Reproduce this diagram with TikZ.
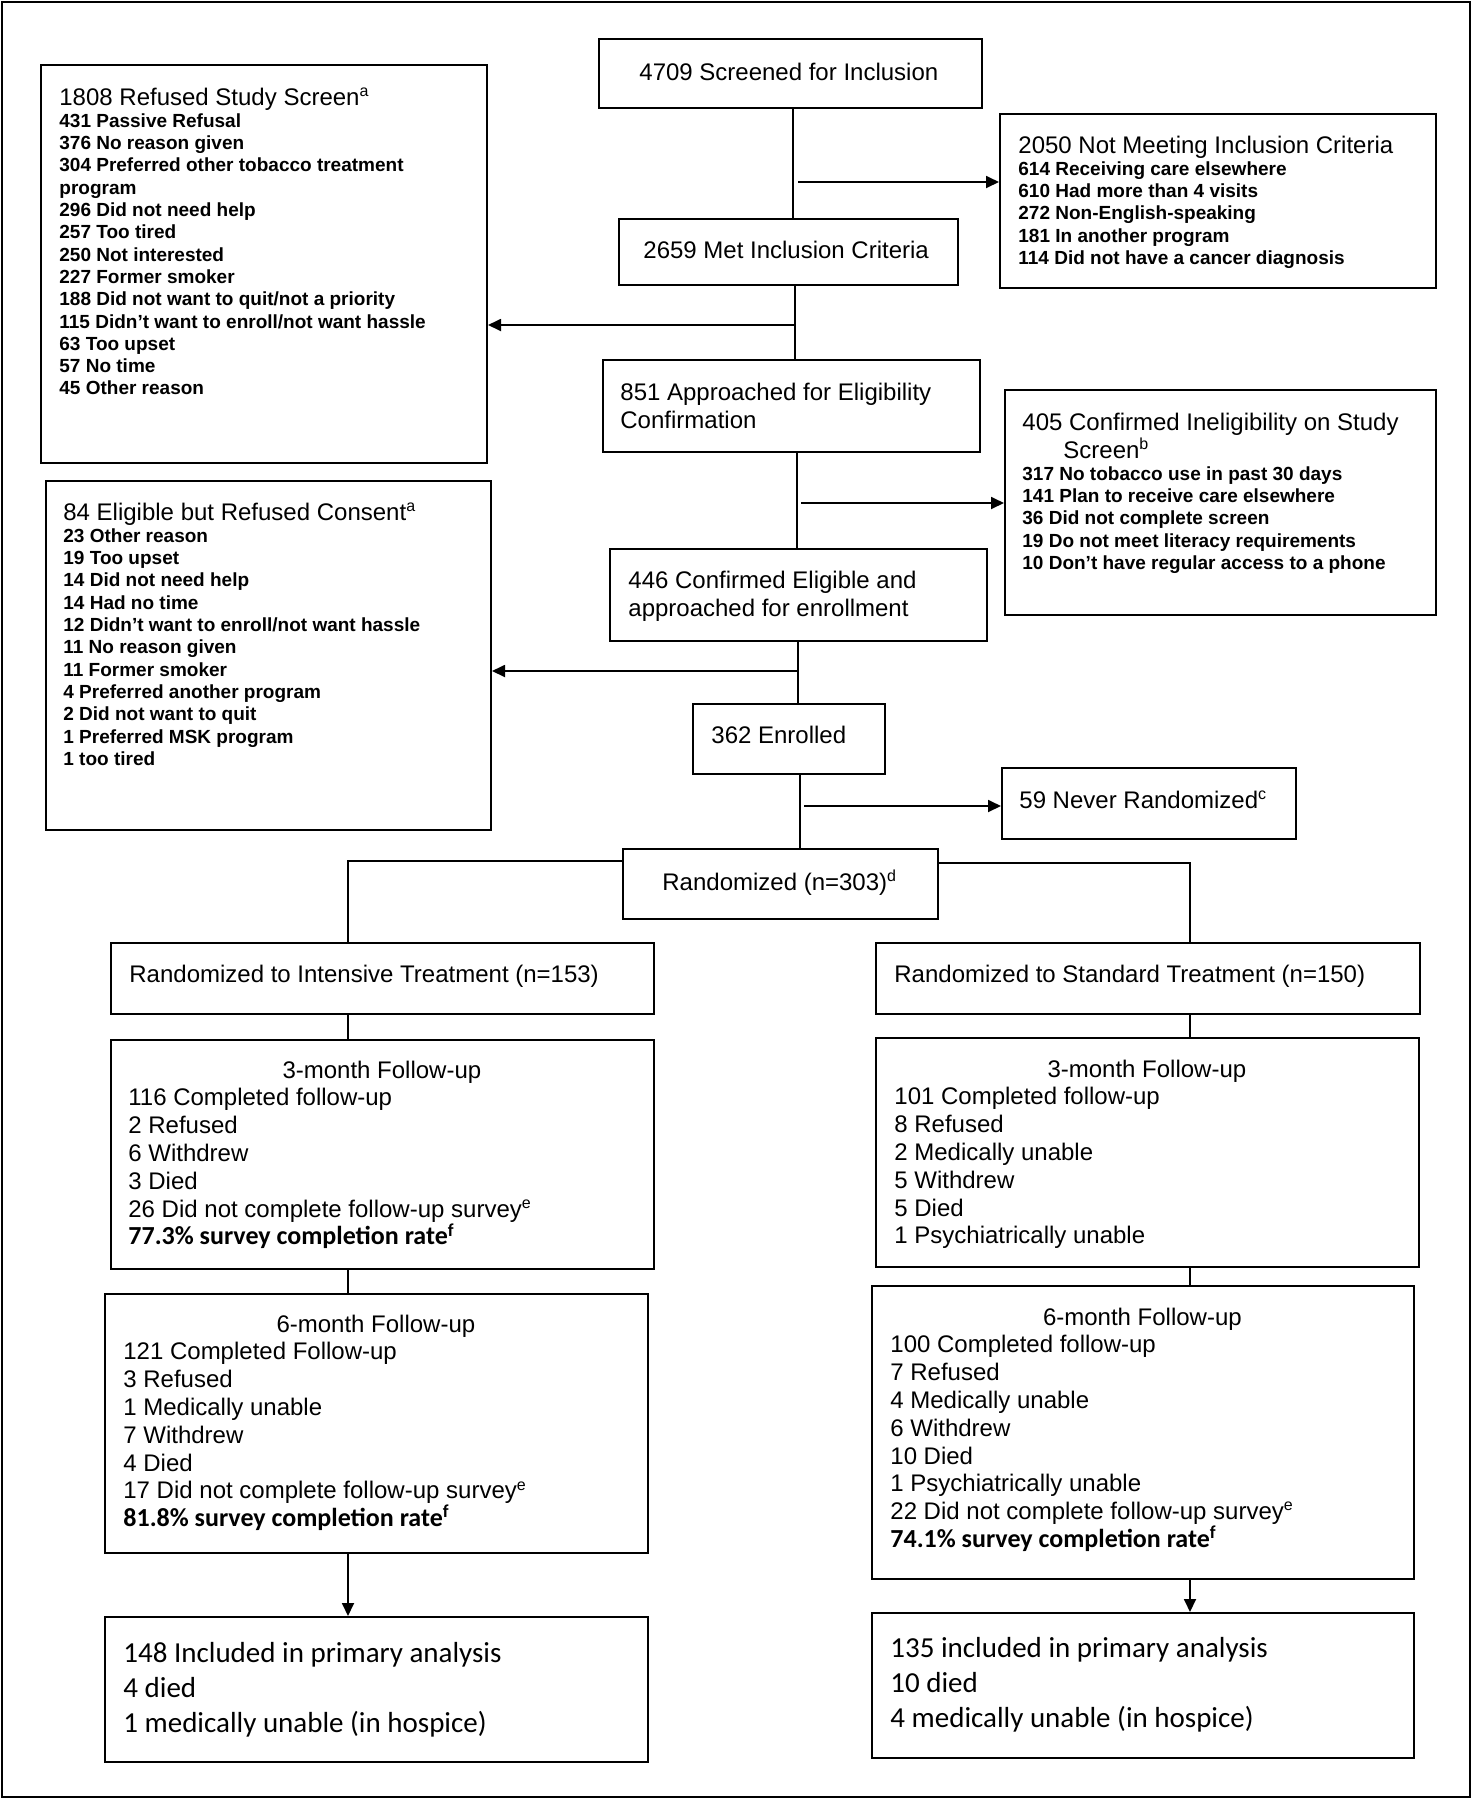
\documentclass[tikz,border=0pt]{standalone}
\usepackage{fontspec}
\setmainfont{Liberation Sans}
\newfontfamily\calfont{Carlito}
\usetikzlibrary{arrows.meta}
\newcommand{\hd}{\mdseries\fontsize{12}{14}\selectfont}
\newcommand{\lst}{\bfseries\fontsize{9.5}{11.15}\selectfont}
\newcommand{\fu}{\fontsize{12}{13.9}\selectfont}
\newcommand{\rate}{\calfont\bfseries\fontsize{13}{13.9}\selectfont}
\newcommand{\ana}{\calfont\fontsize{14.5}{17.5}\selectfont}
\newcommand{\mkbox}[5]{% #1: name, #2: x1, #3: y1, #4: x2, #5: y2
	\node[box,minimum width={(#4-#2)*0.5pt},minimum height={(#5-#3)*0.5pt}] (#1) at (#2,#3) {};
}

\begin{document}
\begin{tikzpicture}[x=0.5pt,y=-0.5pt,
	box/.style={draw,line width=1pt,inner sep=0,anchor=north west},
	txt/.style={inner sep=0,anchor=base west},
	link/.style={line width=0.9pt},
	arr/.style={link,-{Triangle[length=6.5pt,width=6pt]}}]
					\useasboundingbox (0,0) rectangle (1474,1800);
					% Draw the frame
					\draw[line width=1pt] (2,2) rectangle (1470,1797);
					
					% Making boxes
					\mkbox{scr}{598}{38}{981}{107}
					\mkbox{excl}{999}{113}{1435}{287}
					\mkbox{met}{618}{218}{957}{284}
					\mkbox{refscr}{40}{64}{486}{462}
					\mkbox{appr}{602}{359}{979}{451}
					\mkbox{inelig}{1004}{389}{1435}{614}
					\mkbox{refcons}{45}{480}{490}{829}
					\mkbox{elig}{609}{548}{986}{640}
					\mkbox{enrol}{692}{703}{884}{773}
					\mkbox{never}{1001}{767}{1295}{838}
					\mkbox{rand}{622}{848}{937}{918}
					\mkbox{inten}{110}{942}{653}{1013}
					\mkbox{stand}{875}{942}{1419}{1013}
					\mkbox{intthree}{110}{1039}{653}{1268}
					\mkbox{stdthree}{875}{1037}{1418}{1266}
					\mkbox{intsix}{104}{1293}{647}{1552}
					\mkbox{stdsix}{871}{1285}{1413}{1578}
					\mkbox{intana}{104}{1616}{647}{1761}
					\mkbox{stdana}{871}{1612}{1413}{1757}
					
					% Texts of the boxes
					\node[txt] (scrtxt) at (639,80) {\hd 4709 Screened for Inclusion};
					\node[txt] (excltxt) at (1018,153) {\parbox[t]{205pt}{\lst{\hd 2050 Not Meeting Inclusion Criteria}\\
						614 Receiving care elsewhere\\ 610 Had more than 4 visits\\ 272 Non-English-speaking\\
						181 In another program\\ 114 Did not have a cancer diagnosis}};
					\node[txt] (mettxt) at (643,258) {\hd 2659 Met Inclusion Criteria};
					\node[txt] (refscrtxt) at (59,105) {\parbox[t]{210pt}{\lst{\hd 1808 Refused Study Screen\textsuperscript{a}}\\
						431 Passive Refusal\\ 376 No reason given\\ 304 Preferred other tobacco treatment\\ program\\
						296 Did not need help\\ 257 Too tired\\ 250 Not interested\\ 227 Former smoker\\
						188 Did not want to quit/not a priority\\ 115 Didn’t want to enroll/not want hassle\\
						63 Too upset\\ 57 No time\\ 45 Other reason}};
					\node[txt] (apprtxt) at (620,400) {\parbox[t]{180pt}{\hd 851 Approached for Eligibility\\ Confirmation}};
					\node[txt] (ineligtxt) at (1022,430) {\parbox[t]{205pt}{\lst{\hd 405 Confirmed Ineligibility on Study\\
						\hspace*{20.5pt}Screen\textsuperscript{b}\par}
						317 No tobacco use in past 30 days\\ 141 Plan to receive care elsewhere\\ 36 Did not complete screen\\
						19 Do not meet literacy requirements\\ 10 Don’t have regular access to a phone}};
					\node[txt] (refconstxt) at (63,520) {\parbox[t]{210pt}{\lst{\hd 84 Eligible but Refused Consent\textsuperscript{a}}\\
						23 Other reason\\ 19 Too upset\\ 14 Did not need help\\ 14 Had no time\\
						12 Didn’t want to enroll/not want hassle\\ 11 No reason given\\ 11 Former smoker\\
						4 Preferred another program\\ 2 Did not want to quit\\ 1 Preferred MSK program\\ 1 too tired}};
					\node[txt] (eligtxt) at (628,588) {\parbox[t]{180pt}{\hd 446 Confirmed Eligible and\\ approached for enrollment}};
					\node[txt] (enroltxt) at (711,743) {\hd 362 Enrolled};
					\node[txt] (nevertxt) at (1019,808) {\hd 59 Never Randomized\textsuperscript{c}};
					\node[txt] (randtxt) at (662,890) {\hd Randomized (n=303)\textsuperscript{d}};
					\node[txt] (intentxt) at (129,982) {\hd Randomized to Intensive Treatment (n=153)};
					\node[txt] (standtxt) at (894,982) {\hd Randomized to Standard Treatment (n=150)};
					\node[txt] (intthreetxt) at (128,1078) {\parbox[t]{253.5pt}{\fu\makebox[\linewidth]{3-month Follow-up}\\
						116 Completed follow-up\\ 2 Refused\\ 6 Withdrew\\ 3 Died\\
						26 Did not complete follow-up survey\textsuperscript{e}\\ {\rate 77.3\% survey completion rate\textsuperscript{f}}}};
					\node[txt] (stdthreetxt) at (894,1077) {\parbox[t]{252.5pt}{\fu\makebox[\linewidth]{3-month Follow-up}\\
						101 Completed follow-up\\ 8 Refused\\ 2 Medically unable\\ 5 Withdrew\\ 5 Died\\
						1 Psychiatrically unable}};
					\node[txt] (intsixtxt) at (123,1332) {\parbox[t]{252.5pt}{\fu\makebox[\linewidth]{6-month Follow-up}\\
						121 Completed Follow-up\\ 3 Refused\\ 1 Medically unable\\ 7 Withdrew\\ 4 Died\\
						17 Did not complete follow-up survey\textsuperscript{e}\\ {\rate 81.8\% survey completion rate\textsuperscript{f}}}};
					\node[txt] (stdsixtxt) at (890,1325) {\parbox[t]{252pt}{\fu\makebox[\linewidth]{6-month Follow-up}\\
						100 Completed follow-up\\ 7 Refused\\ 4 Medically unable\\ 6 Withdrew\\ 10 Died\\
						1 Psychiatrically unable\\ 22 Did not complete follow-up survey\textsuperscript{e}\\
						{\rate 74.1\% survey completion rate\textsuperscript{f}}}};
					\node[txt] (intanatxt) at (123,1662) {\parbox[t]{250pt}{\ana 148 Included in primary analysis\\ 4 died\\
						1 medically unable (in hospice)}};
					\node[txt] (stdanatxt) at (890,1657) {\parbox[t]{250pt}{\ana 135 included in primary analysis\\ 10 died\\
						4 medically unable (in hospice)}};
					
					% Draw the trunk and side arrows
					\coordinate (j1) at (793,182);
					\coordinate (j2) at (795,325);
					\coordinate (j3) at (797,503);
					\coordinate (j4) at (798,671);
					\coordinate (j5) at (800,806);
					\draw[link] (scr.south -| j1) -- (met.north -| j1);
					\draw[arr] ([xshift=2.5pt]j1) -- (j1 -| excl.west);
					\draw[link] (met.south -| j2) -- (appr.north -| j2);
					\draw[arr] (j2) -- (j2 -| refscr.east);
					\draw[link] (appr.south -| j3) -- (elig.north -| j3);
					\draw[arr] ([xshift=2pt]j3) -- (j3 -| inelig.west);
					\draw[link] (elig.south -| j4) -- (enrol.north -| j4);
					\draw[arr] (j4) -- (j4 -| refcons.east);
					\draw[link] (enrol.south -| j5) -- (rand.north -| j5);
					\draw[arr] ([xshift=2pt]j5) -- (j5 -| never.west);
					
					% Draw the two arms
					\coordinate (bl) at (348,861);
					\coordinate (br) at (1190,863);
					\draw[link] (bl -| rand.west) -- (bl) -- (bl |- inten.north);
					\draw[link] (br -| rand.east) -- (br) -- (br |- stand.north);
					\draw[link] (bl |- inten.south) -- (bl |- intthree.north);
					\draw[link] (bl |- intthree.south) -- (bl |- intsix.north);
					\draw[arr] (bl |- intsix.south) -- (bl |- intana.north);
					\draw[link] (br |- stand.south) -- (br |- stdthree.north);
					\draw[link] (br |- stdthree.south) -- (br |- stdsix.north);
					\draw[arr] (br |- stdsix.south) -- (br |- stdana.north);
				\end{tikzpicture}
\end{document}
